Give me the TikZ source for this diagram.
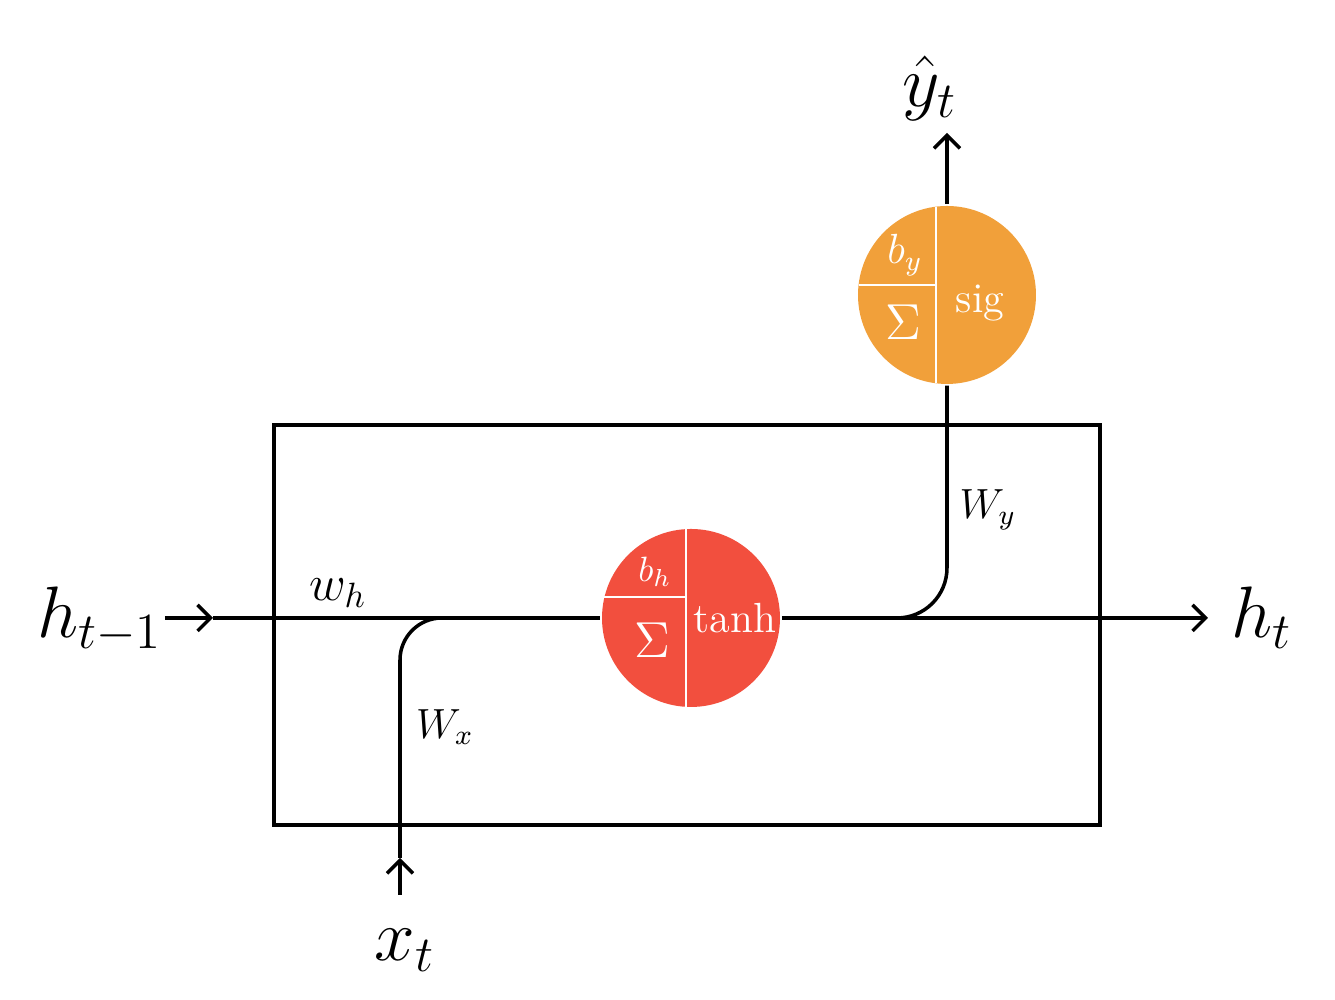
\documentclass[tikz,border=0pt]{standalone}
\usepackage{amsmath}
\usetikzlibrary{arrows.meta}
\definecolor{cellRed}{HTML}{F24F3E}
\definecolor{outOrange}{HTML}{F1A03A}

\begin{document}
\begin{tikzpicture}[
    line width=1pt,
    barb/.style={-{Straight Barb[length=1.3mm,width=2.6mm]}},
    unit/.style={circle,minimum size=1.78cm,inner sep=0pt},
    inlabel/.style={text=white,inner sep=0pt}
  ]
    \useasboundingbox (0,0) rectangle (13.35,10);
    \draw[line width=0.9pt] (2.74,1.75) rectangle (11.0,5.75);
    % the two units
    \node[unit,fill=cellRed] (rnn) at (6.91,3.82){};
    \node[unit,fill=outOrange] (out) at (9.47,7.05){};
    \begin{scope}[shift={(rnn.center)},white,line width=0.8pt]
        \draw (-0.05,-0.889) -- (-0.05,0.889);
        \draw (-0.865,0.21) -- (-0.05,0.21);
        \node[inlabel] at (-0.36,0.46){\(b_h\)};
        \node[inlabel] at (-0.39,-0.22){\Large\(\Sigma\)};
        \node[inlabel] at (0.44,0){\large tanh};
    \end{scope}
    \begin{scope}[shift={(out.center)},white,line width=0.8pt]
        \draw (-0.11,-0.883) -- (-0.11,0.883);
        \draw (-0.884,0.10) -- (-0.11,0.10);
        \node[inlabel] at (-0.42,0.40){\large\(b_y\)};
        \node[inlabel] at (-0.44,-0.27){\Large\(\Sigma\)};
        \node[inlabel] at (0.33,-0.08){\large sig};
    \end{scope}
    % inputs and outputs
    \coordinate (hin) at (1.65,3.82);
    \coordinate (hmid) at (2.13,3.82);
    \coordinate (xin) at (4.00,1.05);
    \coordinate (xmid) at (4.00,1.42);
    \coordinate (xjoin) at (4.45,3.82);
    \coordinate (branch) at (8.93,3.82);
    \coordinate (hout) at (12.08,3.82);
    \coordinate (yout) at (9.47,8.67);
    \draw[barb] (hin) -- (hmid);
    \draw (hmid) -- (rnn.west);
    \draw[barb] (xin) -- (xmid);
    \draw[rounded corners=0.42cm] (xmid) |- (xjoin);
    \draw[barb] (rnn.east) -- (hout);
    \draw[rounded corners=0.5cm] (branch) -| (out.south);
    \draw[barb] (out.north) -- (yout);
    % labels
    \node (hprev) at (1.00,3.80){\huge\(h_{t-1}\)};
    \node (hnext) at (12.62,3.82){\huge\(h_t\)};
    \node (yhat) at (9.30,9.12){\huge\(\hat{y}_t\)};
    \node (xt) at (4.05,0.50){\huge\(x_t\)};
    \node (wh) at (3.38,4.07){\Large\(w_h\)};
    \node (wx) at (4.45,2.73){\large\(W_x\)};
    \node (wy) at (9.88,4.90){\large\(W_y\)};
\end{tikzpicture}
\end{document}
